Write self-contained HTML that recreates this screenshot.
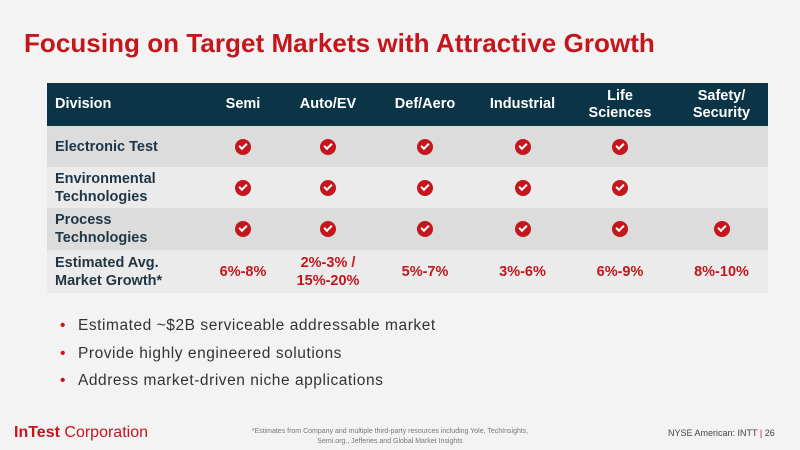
<!DOCTYPE html>
<html><head><meta charset="utf-8"><style>
body{margin:0;width:800px;height:450px;background:#f3f3f3;font-family:"Liberation Sans",sans-serif;position:relative;overflow:hidden}
.abs{position:absolute}
h1{position:absolute;left:24px;top:28px;margin:0;font-size:26px;color:#c4161c;font-weight:bold;letter-spacing:0.05px}
table{position:absolute;left:47px;top:83px;width:721px;border-collapse:collapse;font-weight:bold;table-layout:fixed}
th{background:#0c3447;color:#fff;font-size:14.5px;height:43px;text-align:center;line-height:17px;padding:0}
th:first-child{text-align:left;padding-left:8px}
td{text-align:center;font-size:14.5px;padding:0;line-height:18px}
td:first-child{text-align:left;padding-left:8px;color:#1e3545}
tr.g td{background:#dcdcdc}
tr.l td{background:#ebebeb}
.chk{display:inline-block;width:16px;height:16px;border-radius:50%;background:#c4161c;vertical-align:middle;position:relative}
.chk:after{content:"";position:absolute;left:4px;top:4px;width:6px;height:3px;border-left:2px solid #fff;border-bottom:2px solid #fff;transform:rotate(-45deg)}
.red{color:#c4161c}
ul{position:absolute;left:60px;top:317px;margin:0;padding:0;list-style:none;font-size:15.5px;color:#333;letter-spacing:0.55px}
li{height:27.5px}
li:before{content:"•";color:#c4161c;margin-right:12px}
</style></head><body>
<h1>Focusing on Target Markets with Attractive Growth</h1>
<table>
<colgroup><col style="width:153px"><col style="width:86px"><col style="width:84px"><col style="width:110px"><col style="width:85px"><col style="width:110px"><col style="width:93px"></colgroup>
<tr><th>Division</th><th>Semi</th><th>Auto/EV</th><th>Def/Aero</th><th>Industrial</th><th>Life<br>Sciences</th><th>Safety/<br>Security</th></tr>
<tr class="g" style="height:41px"><td>Electronic Test</td><td><span class="chk"></span></td><td><span class="chk"></span></td><td><span class="chk"></span></td><td><span class="chk"></span></td><td><span class="chk"></span></td><td></td></tr>
<tr class="l" style="height:41px"><td>Environmental<br>Technologies</td><td><span class="chk"></span></td><td><span class="chk"></span></td><td><span class="chk"></span></td><td><span class="chk"></span></td><td><span class="chk"></span></td><td></td></tr>
<tr class="g" style="height:42px"><td>Process<br>Technologies</td><td><span class="chk"></span></td><td><span class="chk"></span></td><td><span class="chk"></span></td><td><span class="chk"></span></td><td><span class="chk"></span></td><td><span class="chk"></span></td></tr>
<tr class="l" style="height:43px"><td>Estimated Avg.<br>Market Growth*</td><td class="red">6%-8%</td><td class="red">2%-3% /<br>15%-20%</td><td class="red">5%-7%</td><td class="red">3%-6%</td><td class="red">6%-9%</td><td class="red">8%-10%</td></tr>
</table>
<ul>
<li>Estimated ~$2B serviceable addressable market</li>
<li>Provide highly engineered solutions</li>
<li>Address market-driven niche applications</li>
</ul>
<div class="abs" style="left:14px;top:424px;font-size:16px;color:#c4161c"><b>InTest</b> Corporation</div>
<div class="abs" style="left:215px;top:427px;width:350px;text-align:center;font-size:7px;color:#777;line-height:10px">*Estimates from Company and multiple third-party resources including Yole, TechInsights,<br>Semi.org., Jefferies and Global Market Insights</div>
<div class="abs" style="left:668px;top:428px;font-size:9px;color:#444">NYSE American: INTT <span style="color:#c4161c">|</span> 26</div>
</body></html>
